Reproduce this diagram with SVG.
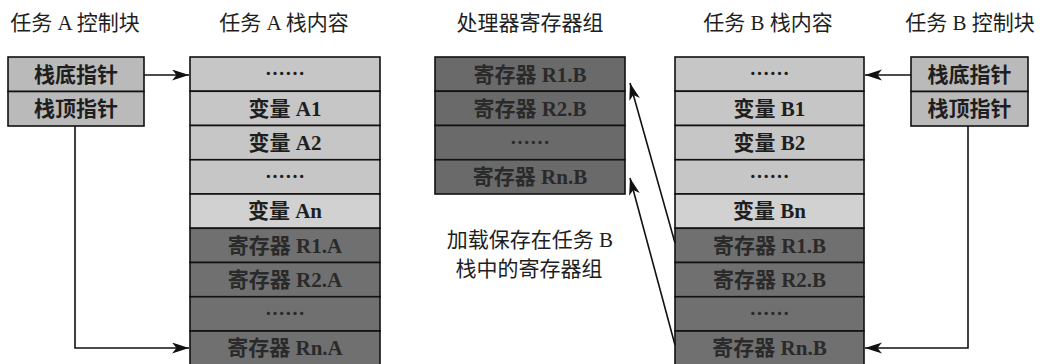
<svg xmlns="http://www.w3.org/2000/svg" width="1043" height="364" viewBox="0 0 1043 364">
<style>
text{font-family:"Liberation Serif","Noto Sans CJK SC",serif;font-size:21px;fill:#1e1e1e;text-anchor:middle}
.t{font-weight:normal}
.b{font-weight:bold}
.dk{fill:#2a2a2a}
.dots{font-family:"Noto Sans CJK SC",sans-serif;font-weight:bold;font-size:20px}
.cb{fill:#bababa;stroke:#111;stroke-width:1.6}
.lt{fill:#c6c6c6;stroke:#111;stroke-width:1.6}
.lt2{fill:#d1d1d1;stroke:#111;stroke-width:1.6}
.dr{fill:#707070;stroke:#111;stroke-width:1.6}
.pr{fill:#6a6a6a;stroke:#111;stroke-width:1.6}
.ln{fill:none;stroke:#111;stroke-width:1.6}
</style>
<defs>
<marker id="ah" markerUnits="userSpaceOnUse" markerWidth="18" markerHeight="12" refX="17" refY="5.5" orient="auto">
<path d="M0,0 L17,5.5 L0,11 L4.5,5.5 z" fill="#111"/>
</marker>
</defs>

<g id="titles">
<text class="t" x="75" y="30">任务 A 控制块</text>
<text class="t" x="284" y="30">任务 A 栈内容</text>
<text class="t" x="530" y="30">处理器寄存器组</text>
<text class="t" x="768" y="30">任务 B 栈内容</text>
<text class="t" x="970" y="30">任务 B 控制块</text>
</g>

<g id="tcbA">
<rect class="cb" x="8" y="57" width="136" height="34.5"/>
<rect class="cb" x="8" y="91.5" width="136" height="34.5"/>
<text class="b" x="76" y="81.5">栈底指针</text>
<text class="b" x="76" y="115.5">栈顶指针</text>
</g>

<g id="stackA">
<rect class="lt" x="190" y="57" width="190" height="34.25"/>
<rect class="lt" x="190" y="91.25" width="190" height="34.25"/>
<rect class="lt" x="190" y="125.5" width="190" height="34.25"/>
<rect class="lt" x="190" y="159.75" width="190" height="34.25"/>
<rect class="lt2" x="190" y="194" width="190" height="34.25"/>
<rect class="dr" x="190" y="228.25" width="190" height="34.25"/>
<rect class="dr" x="190" y="262.5" width="190" height="34.25"/>
<rect class="dr" x="190" y="296.75" width="190" height="34.25"/>
<rect class="dr" x="190" y="331" width="190" height="34.25"/>
<text class="dots" x="285" y="81">……</text>
<text class="b" x="285" y="115.5">变量 A1</text>
<text class="b" x="285" y="149.5">变量 A2</text>
<text class="dots" x="285" y="184">……</text>
<text class="b" x="285" y="218">变量 An</text>
<text class="b dk" x="285" y="252.5">寄存器 R1.A</text>
<text class="b dk" x="285" y="286.5">寄存器 R2.A</text>
<text class="dots dk" x="285" y="321">……</text>
<text class="b dk" x="285" y="355">寄存器 Rn.A</text>
</g>

<g id="cpuRegs">
<rect class="pr" x="435" y="57" width="190" height="34.25"/>
<rect class="pr" x="435" y="91.25" width="190" height="34.25"/>
<rect class="pr" x="435" y="125.5" width="190" height="34.25"/>
<rect class="pr" x="435" y="159.75" width="190" height="34.25"/>
<text class="b dk" x="530" y="81.5">寄存器 R1.B</text>
<text class="b dk" x="530" y="115.5">寄存器 R2.B</text>
<text class="dots dk" x="530" y="150">……</text>
<text class="b dk" x="530" y="184">寄存器 Rn.B</text>
</g>

<g id="note">
<text class="t" x="530" y="247">加载保存在任务 B</text>
<text class="t" x="529" y="276">栈中的寄存器组</text>
</g>

<g id="stackB">
<rect class="lt" x="675" y="57" width="189" height="34.25"/>
<rect class="lt" x="675" y="91.25" width="189" height="34.25"/>
<rect class="lt" x="675" y="125.5" width="189" height="34.25"/>
<rect class="lt" x="675" y="159.75" width="189" height="34.25"/>
<rect class="lt2" x="675" y="194" width="189" height="34.25"/>
<rect class="dr" x="675" y="228.25" width="189" height="34.25"/>
<rect class="dr" x="675" y="262.5" width="189" height="34.25"/>
<rect class="dr" x="675" y="296.75" width="189" height="34.25"/>
<rect class="dr" x="675" y="331" width="189" height="34.25"/>
<text class="dots" x="769.5" y="81">……</text>
<text class="b" x="769.5" y="115.5">变量 B1</text>
<text class="b" x="769.5" y="149.5">变量 B2</text>
<text class="dots" x="769.5" y="184">……</text>
<text class="b" x="769.5" y="218">变量 Bn</text>
<text class="b dk" x="769.5" y="252.5">寄存器 R1.B</text>
<text class="b dk" x="769.5" y="286.5">寄存器 R2.B</text>
<text class="dots dk" x="769.5" y="321">……</text>
<text class="b dk" x="769.5" y="355">寄存器 Rn.B</text>
</g>

<g id="tcbB">
<rect class="cb" x="911" y="57" width="117" height="34.5"/>
<rect class="cb" x="911" y="91.5" width="117" height="34.5"/>
<text class="b" x="969.5" y="81.5">栈底指针</text>
<text class="b" x="969.5" y="115.5">栈顶指针</text>
</g>

<g id="connectors">
<path class="ln" d="M144 75 H189" marker-end="url(#ah)"/>
<path class="ln" d="M75 126 V348 H189" marker-end="url(#ah)"/>
<path class="ln" d="M911 75 H865" marker-end="url(#ah)"/>
<path class="ln" d="M968 126 V348 H865" marker-end="url(#ah)"/>
<path class="ln" d="M675 243 L630 83" marker-end="url(#ah)"/>
<path class="ln" d="M675 345 L630 178" marker-end="url(#ah)"/>
</g>
</svg>
